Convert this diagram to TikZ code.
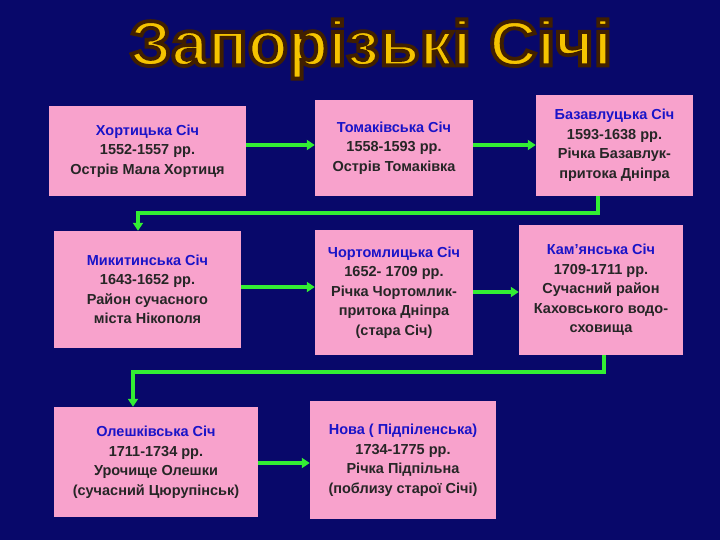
\documentclass[tikz,border=0pt]{standalone}
\usepackage{fontspec}
\setmainfont{Liberation Sans}
\usetikzlibrary{arrows.meta}
\definecolor{bg}{HTML}{08086A}
\definecolor{pinkbox}{HTML}{F8A2CC}
\definecolor{arr}{HTML}{33EE33}
\definecolor{nm}{HTML}{1A14C8}
\definecolor{gold}{HTML}{F5C400}
\tikzset{
  box/.style={fill=pinkbox, draw=none, align=center, inner sep=0pt,
    font=\bfseries\fontsize{14.5}{19.5}\selectfont, text=black!85},
  conn/.style={draw=arr, line width=3.2pt, -{Triangle[length=8pt,width=10pt]}},
  ttl/.style={font=\bfseries, inner sep=0pt}
}
\newcommand{\nm}[1]{\textcolor{nm}{#1}}
\newcommand{\ttltext}{\resizebox{482pt}{46pt}{\special{pdf:code q 2 Tr 0.6 w 0.25 0.12 0 RG}Запорізькі Січі\special{pdf:code Q}}}
\begin{document}
\begin{tikzpicture}[x=1pt,y=-1pt]
\fill[bg] (0,0) rectangle (720,540);
\useasboundingbox (0,0) rectangle (720,540);
% title
\node[ttl,text=gold] (title) at (371,49) {\ttltext};
% boxes
\node[box, minimum width=197pt, minimum height=90pt] (b1) at (147.5,151) {\nm{Хортицька Січ}\\1552-1557 рр.\\Острів Мала Хортиця};
\node[box, minimum width=158pt, minimum height=96pt] (b2) at (394,148) {\nm{Томаківська Січ}\\1558-1593 рр.\\Острів Томаківка};
\node[box, minimum width=157pt, minimum height=101pt] (b3) at (614.5,145.5) {\nm{Базавлуцька Січ}\\1593-1638 рр.\\Річка Базавлук-\\притока Дніпра};
\node[box, minimum width=187pt, minimum height=117pt] (b4) at (147.5,289.5) {\nm{Микитинська Січ}\\1643-1652 рр.\\Район сучасного\\міста Нікополя};
\node[box, minimum width=158pt, minimum height=124pt] (b5) at (394,292.5) {\nm{Чортомлицька Січ}\\1652- 1709 рр.\\Річка Чортомлик-\\притока Дніпра\\(стара Січ)};
\node[box, minimum width=164pt, minimum height=130pt] (b6) at (601,290) {\nm{Кам’янська Січ}\\1709-1711 рр.\\Сучасний район\\Каховського водо-\\сховища};
\node[box, minimum width=204pt, minimum height=110pt] (b7) at (156,462) {\nm{Олешківська Січ}\\1711-1734 рр.\\Урочище Олешки\\(сучасний Цюрупінськ)};
\node[box, minimum width=186pt, minimum height=118pt] (b8) at (403,460) {\nm{Нова ( Підпіленська)}\\1734-1775 рр.\\Річка Підпільна\\(поблизу старої Січі)};
% connectors
\draw[conn] (b1.east |- 0,145) -- (b2.west |- 0,145);
\draw[conn] (b2.east |- 0,145) -- (b3.west |- 0,145);
\draw[conn] (b4.east |- 0,287) -- (b5.west |- 0,287);
\draw[conn] (b5.east |- 0,292) -- (b6.west |- 0,292);
\draw[conn] (b7.east |- 0,463) -- (b8.west |- 0,463);
\coordinate (c1a) at (598,213);
\coordinate (c1b) at (138,213);
\draw[conn] (b3.south -| c1a) -- (c1a) -- (c1b) -- (b4.north -| c1b);
\coordinate (c2a) at (604,372);
\coordinate (c2b) at (133,372);
\draw[conn] (b6.south -| c2a) -- (c2a) -- (c2b) -- (b7.north -| c2b);
\end{tikzpicture}
\end{document}
